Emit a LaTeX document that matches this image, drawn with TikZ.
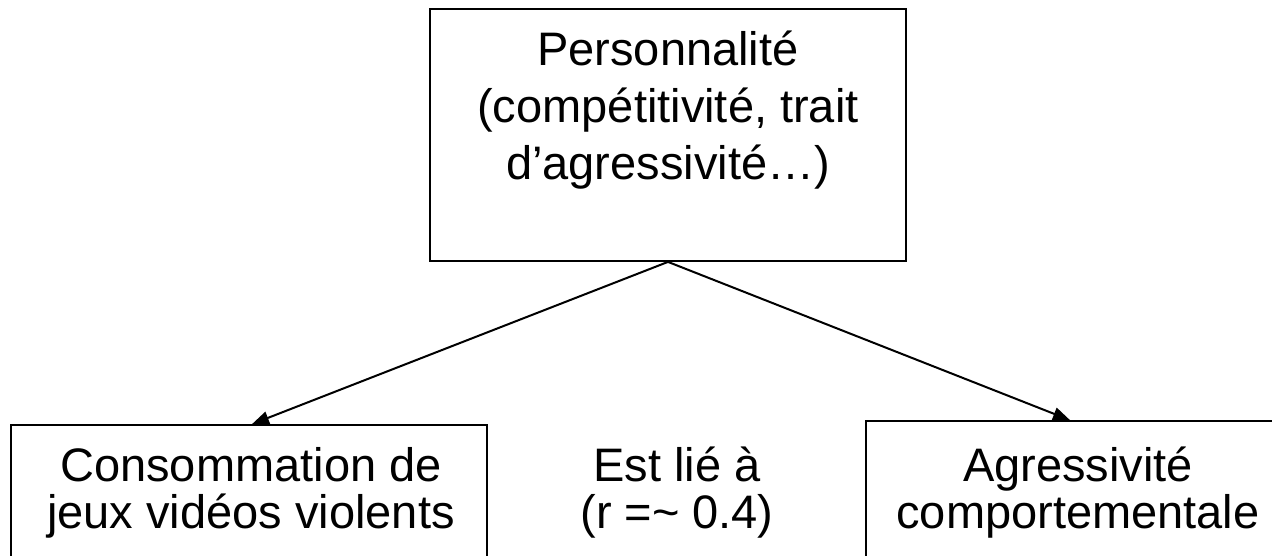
\documentclass[tikz,border=0pt]{standalone}
\usepackage{fontspec}
\setmainfont{Liberation Sans}
\usetikzlibrary{arrows.meta}
\begin{document}
\begin{tikzpicture}[x=1pt,y=-1pt,
  boxs/.style={draw=black, line width=1.8pt, inner sep=0pt},
  txt/.style={align=center, inner sep=0pt, font=\fontsize{47}{57}\selectfont},
  txtb/.style={align=center, inner sep=0pt, font=\fontsize{47}{47}\selectfont},
  conn/.style={line width=2pt, -{Triangle[length=17pt,width=13pt]}}]
\clip (0,0) rectangle (1272,555);
\fill[white] (0,0) rectangle (1272,555);
\node[boxs, minimum width=476pt, minimum height=252pt] (pers) at (668,135) {};
\node[boxs, minimum width=476pt, minimum height=200pt] (cons) at (249,525) {};
\node[boxs, minimum width=430pt, minimum height=200pt] (aggr) at (1081,521) {};
\node[txt] (perstxt) at (668,110) {Personnalité\\(compétitivité, trait\\d’agressivité…)};
\node[txtb] (constxt) at (251,493) {Consommation de\\jeux vidéos violents};
\node[txtb] (lien) at (677,493) {Est lié à\\(r =\textasciitilde{} 0.4)};
\node[txtb] (aggrtxt) at (1078,493) {Agressivité\\comportementale};
\draw[conn] (pers.south) -- ([xshift=3pt]cons.north);
\draw[conn] (pers.south) -- ([xshift=-11pt]aggr.north);
\end{tikzpicture}
\end{document}
